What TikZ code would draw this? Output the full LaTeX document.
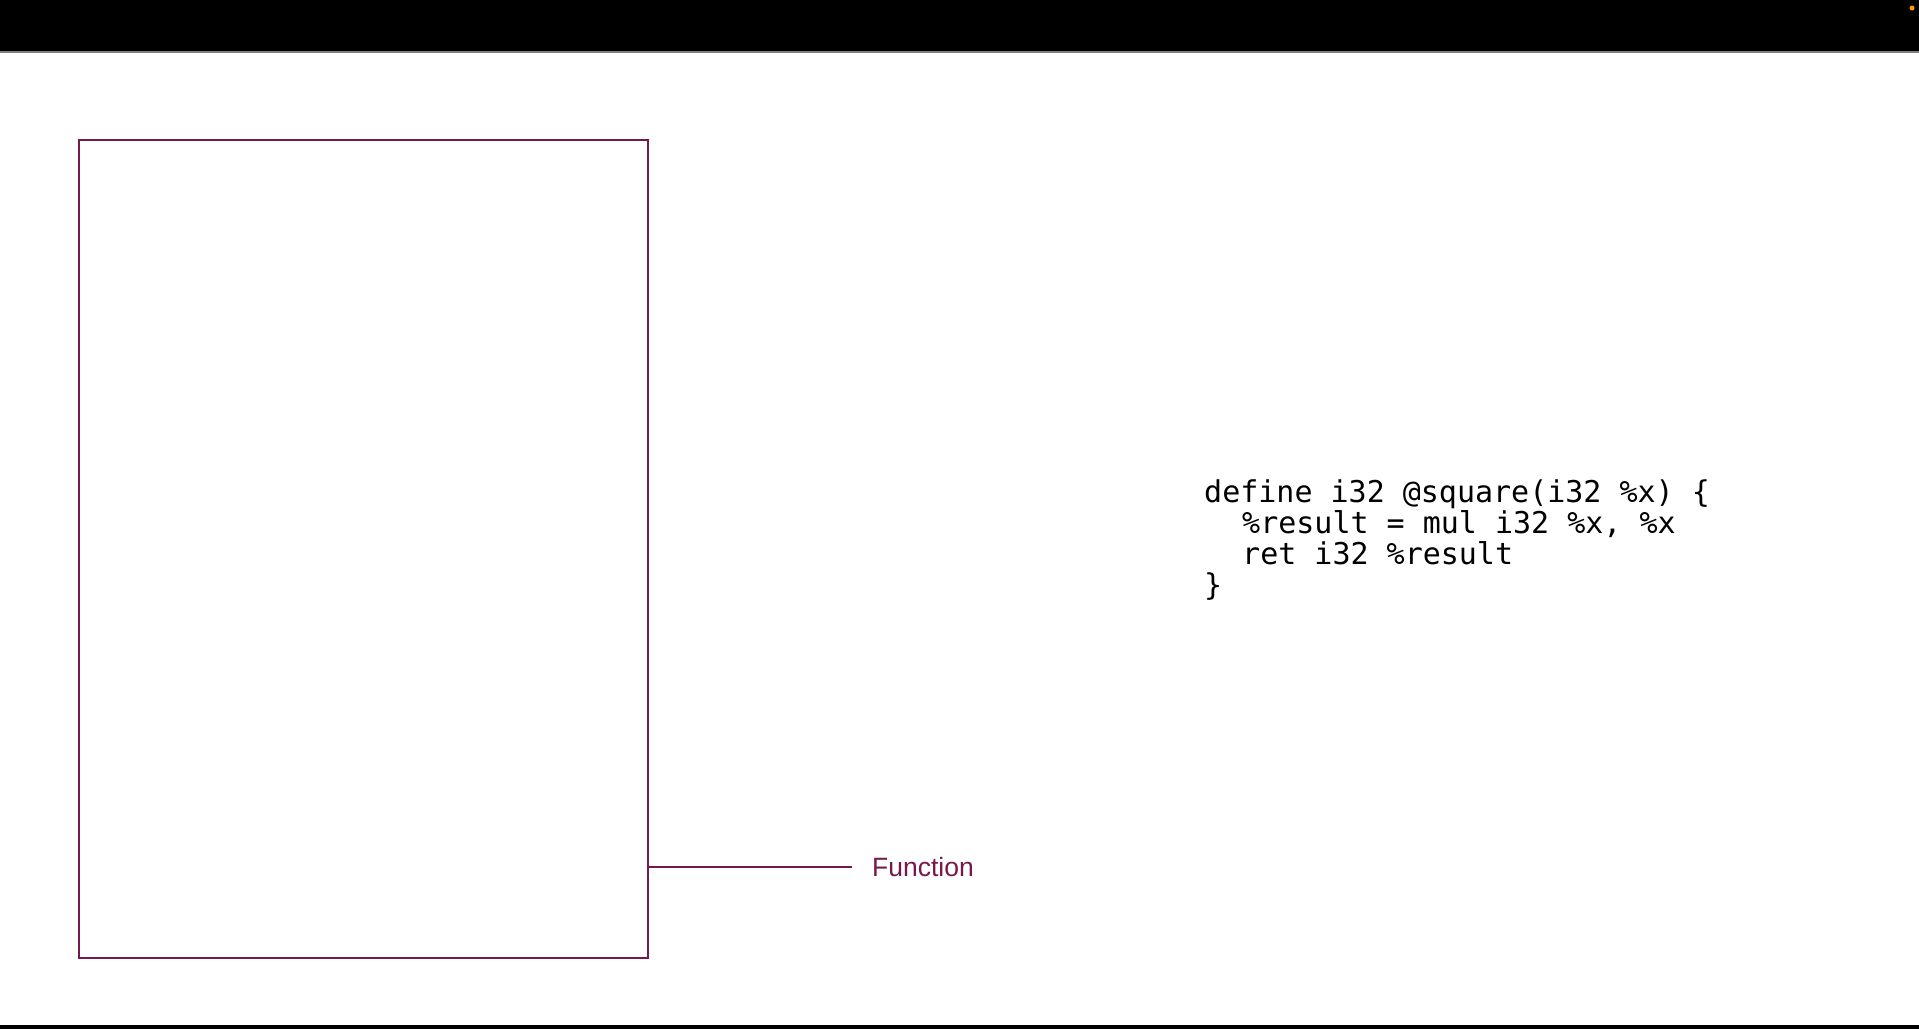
\documentclass[tikz,border=0pt]{standalone}
\usepackage{fontspec}
\setmainfont{Liberation Sans}
\setmonofont{DejaVu Sans Mono}
\usetikzlibrary{positioning}

\definecolor{llvmred}{RGB}{118,24,74}

\begin{document}
\begin{tikzpicture}[x=1pt,y=-1pt,
    box/.style={draw=llvmred, line width=2.8pt, minimum width=569pt, minimum height=818pt, inner sep=0pt},
    link/.style={draw=llvmred, line width=2.6pt},
    lbl/.style={text=llvmred, inner sep=0pt, font=\fontsize{26.5}{30}\selectfont},
    code/.style={inner sep=0pt, align=left, font=\ttfamily\fontsize{30}{31}\selectfont}]
    \useasboundingbox (0,0) rectangle (1919,1029);
    %\draw[very thin,color=gray] (0,0) grid[step=100] (1919,1029);
    \fill[black] (0,0) rectangle (1919,52);
    \draw[gray, line width=1.5pt] (0,52) -- (1919,52);
    \fill[black] (0,1025) rectangle (1919,1029);
    \fill[orange!80!yellow] (1912,8) circle (2.5pt);
    \node [box] (func) at (363.5,549) {};
    \coordinate (tip) at (852,867);
    \draw [link] (func.east |- tip) -- (tip);
    \node [lbl, right=20pt of tip] (funclbl) {Function};
    \node [code, anchor=base west] (ir) at (1204,595)
        {define i32 @square(i32 \%x) \{\\
         \hspace*{38pt}\%result = mul i32 \%x, \%x\\
         \hspace*{38pt}ret i32 \%result\\
         \}};

\end{tikzpicture}
\end{document}
